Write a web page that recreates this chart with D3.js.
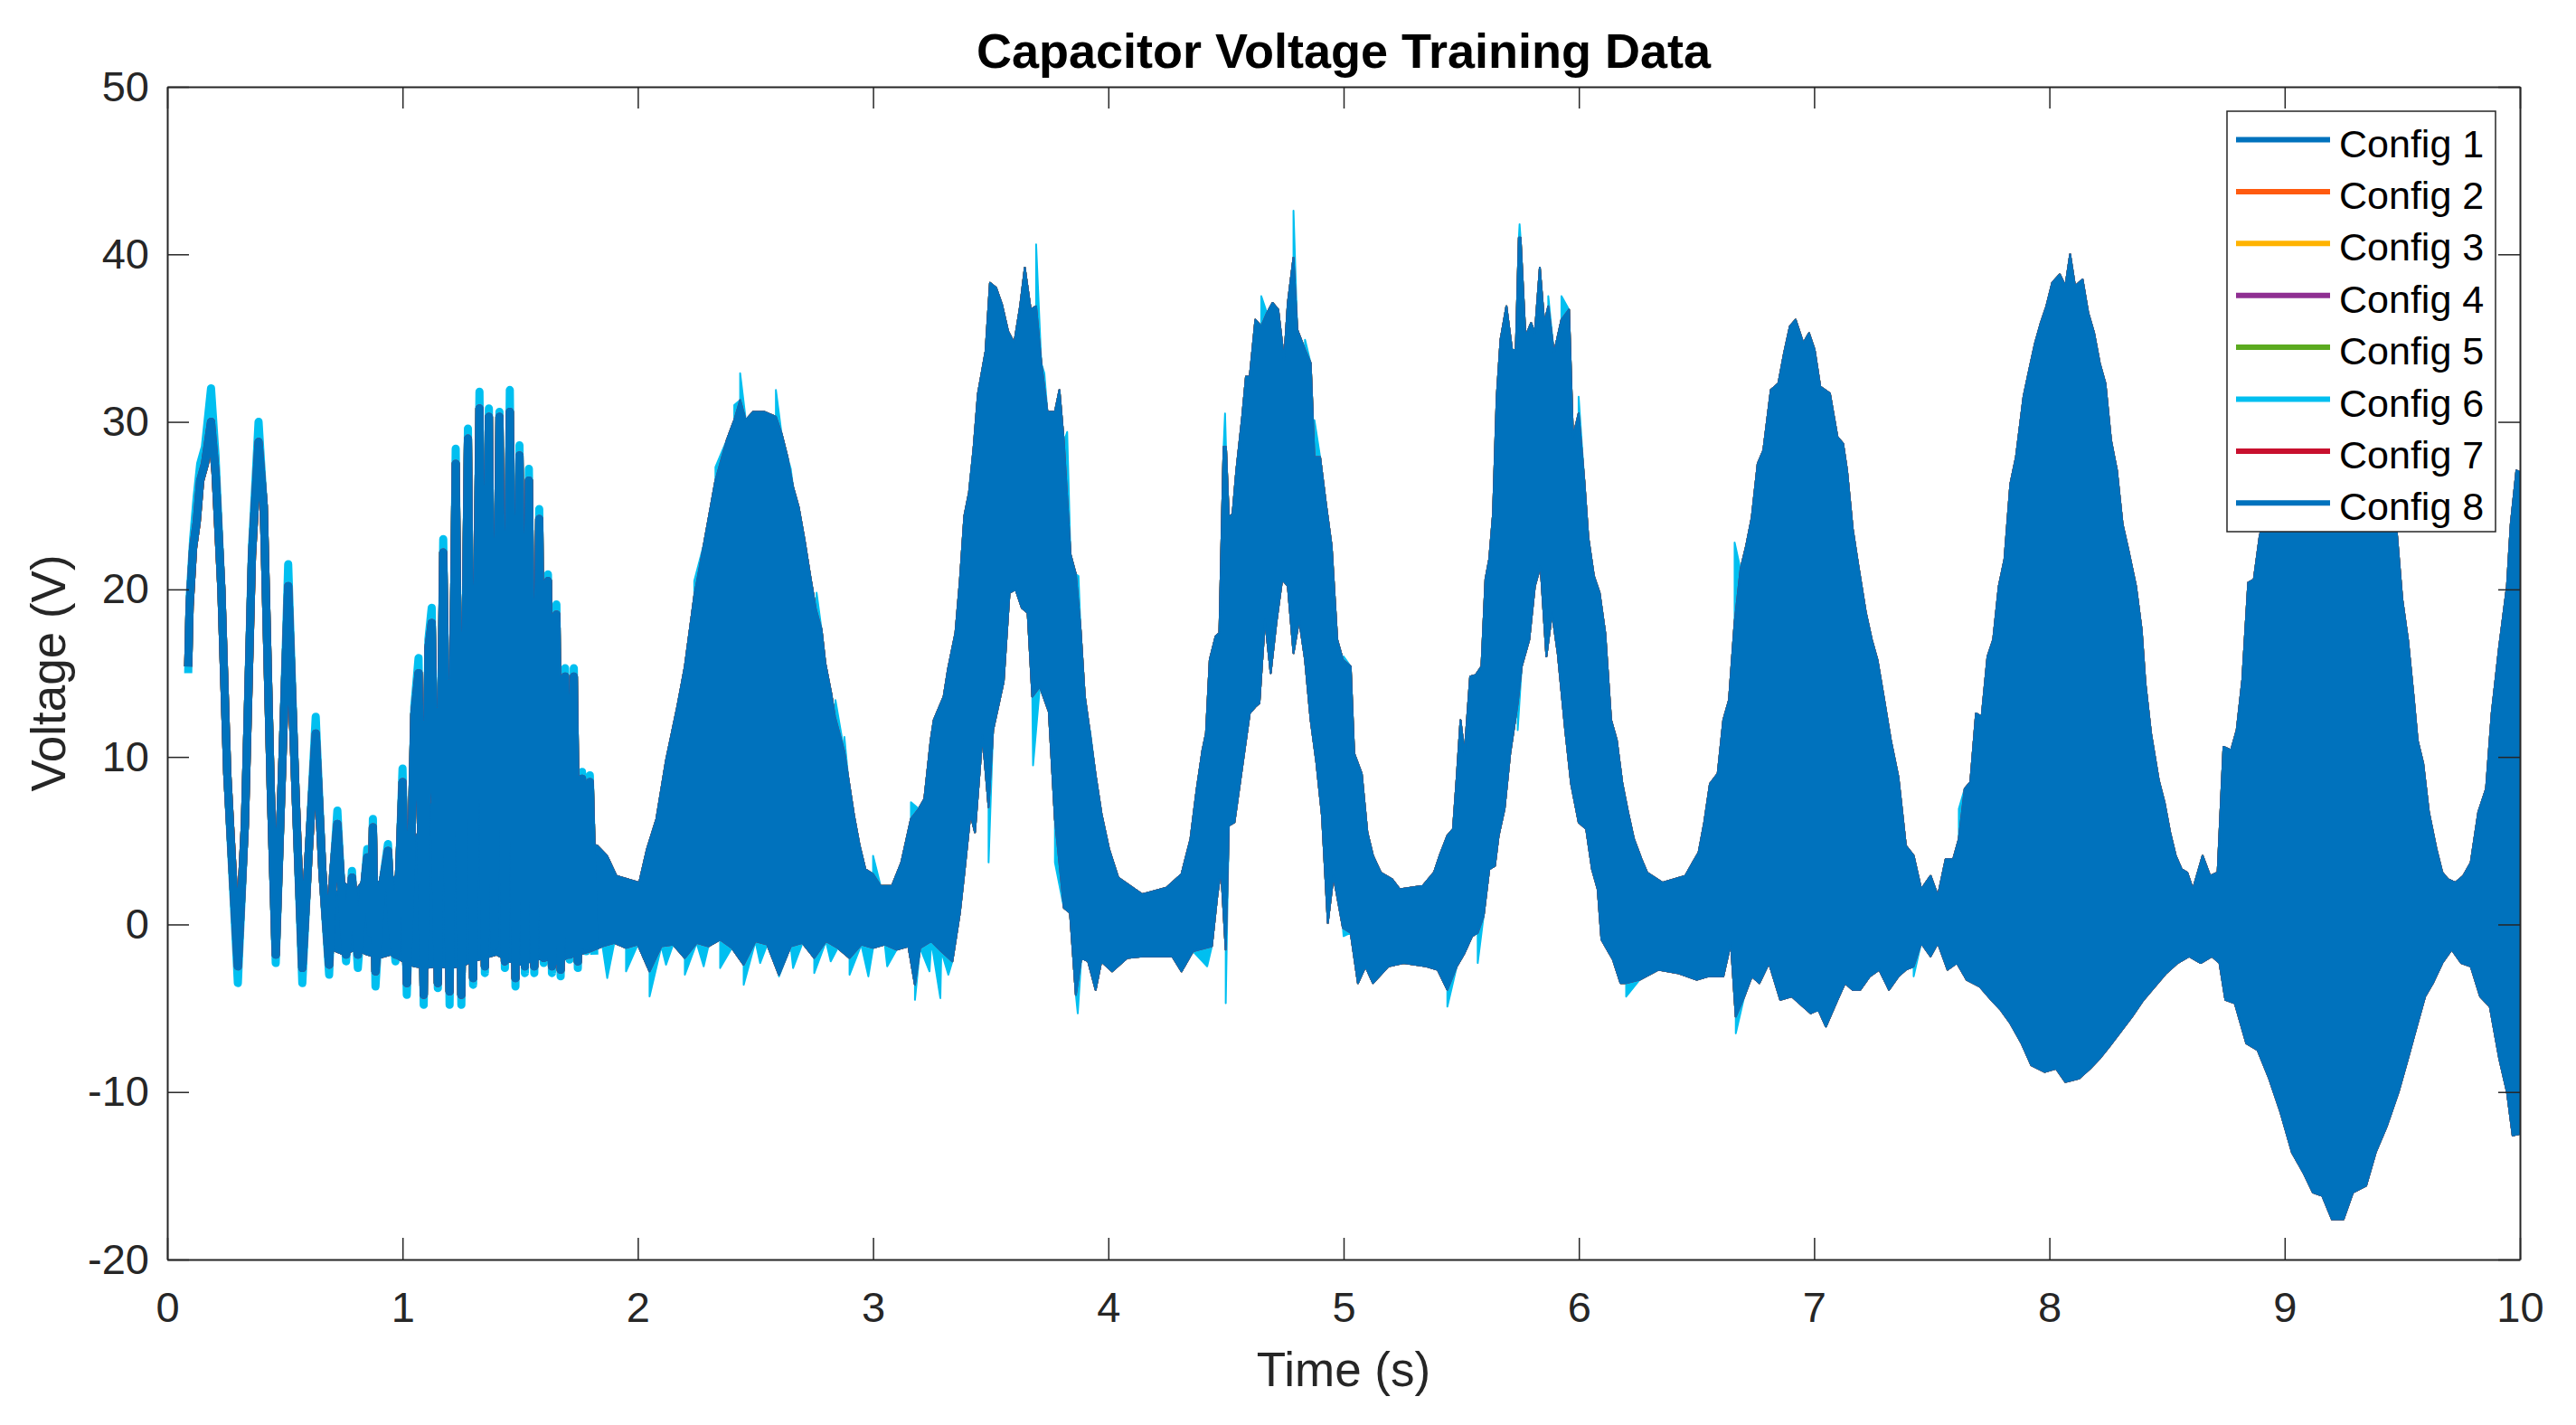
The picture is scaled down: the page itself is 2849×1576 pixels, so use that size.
<!DOCTYPE html>
<html>
<head>
<meta charset="utf-8">
<script src="https://cdn.jsdelivr.net/npm/d3@7"></script>
<style>
  body { margin: 0; background: #fff; }
  svg { display: block; font-family: "Liberation Sans", Arial, Helvetica, sans-serif; }
</style>
</head>
<body>
<svg width="2849" height="1576"></svg>
<script>
// legend entries and their colours (MATLAB order, the 8th wraps back to blue)
var configNames = ["Config 1", "Config 2", "Config 3", "Config 4", "Config 5", "Config 6", "Config 7", "Config 8"];
var configColors = ["#0072bd", "#ff5a0f", "#ffb300", "#8f2f92", "#5baa1f", "#00bff0", "#c8102e", "#0072bd"];

var xTicks = [0, 1, 2, 3, 4, 5, 6, 7, 8, 9, 10];
var yTicks = [-20, -10, 0, 10, 20, 30, 40, 50];

// start of the trace, 0.09 - 1.8 s: peaks and troughs [t, V]
// configs 1-5, 7 and 8 lie on top of each other, only 8 is visible
var startTrace = [
  [0.089, 15.4], [0.095, 19.0], [0.110, 22.5], [0.125, 24.0], [0.140, 26.5], [0.160, 27.5],
  [0.186, 30.0], [0.205, 27.0], [0.230, 20.0], [0.255, 9.0], [0.300, -2.5], [0.330, 6.0],
  [0.360, 22.0], [0.388, 28.8], [0.410, 25.0], [0.440, 8.0], [0.461, -1.8], [0.490, 10.0],
  [0.514, 20.2], [0.545, 8.0], [0.574, -2.6], [0.600, 4.0], [0.631, 11.4], [0.660, 3.0],
  [0.688, -2.4], [0.705, 3.0], [0.723, 6.0], [0.745, 1.0], [0.760, -1.8], [0.785, 2.8],
  [0.810, -1.8], [0.835, 2.0], [0.850, 4.0], [0.865, -0.5], [0.874, 5.8], [0.885, -2.8],
  [0.910, 2.0], [0.938, 4.4], [0.955, 0.0], [0.970, -1.8], [0.985, 3.0], [1.000, 8.5],
  [1.018, -3.5], [1.035, 3.0], [1.050, 12.5], [1.068, 15.0], [1.090, -4.2], [1.110, 16.5],
  [1.124, 18.0], [1.150, -3.5], [1.173, 22.2], [1.200, -4.0], [1.226, 27.5], [1.250, -4.2],
  [1.278, 29.0], [1.300, -3.2], [1.327, 30.8], [1.350, -2.5], [1.367, 30.3], [1.390, -1.3],
  [1.412, 30.3], [1.435, -2.2], [1.456, 30.6], [1.480, -3.2], [1.497, 28.0], [1.520, -2.5],
  [1.537, 26.5], [1.560, -2.5], [1.581, 24.2], [1.600, -2.0], [1.618, 20.5], [1.635, -2.5],
  [1.654, 18.5], [1.672, -2.7], [1.691, 14.8], [1.710, -1.8], [1.728, 14.8], [1.745, -2.2],
  [1.763, 8.7], [1.780, -1.3], [1.796, 8.5], [1.815, -1.5]
];

// config 6 swings a little further at the same instants
var startTrace6 = [
  [0.089, 15.0], [0.095, 19.5], [0.110, 23.0], [0.125, 25.5], [0.140, 27.5], [0.160, 28.5],
  [0.186, 32.0], [0.205, 28.0], [0.230, 20.0], [0.255, 9.0], [0.300, -3.5], [0.330, 6.0],
  [0.360, 22.5], [0.388, 30.0], [0.410, 25.0], [0.440, 8.0], [0.461, -2.3], [0.490, 10.0],
  [0.514, 21.5], [0.545, 8.0], [0.574, -3.5], [0.600, 4.0], [0.631, 12.4], [0.660, 3.0],
  [0.688, -3.0], [0.705, 3.0], [0.723, 6.8], [0.745, 1.0], [0.760, -2.2], [0.785, 3.2],
  [0.810, -2.6], [0.835, 2.0], [0.850, 4.5], [0.865, -0.5], [0.874, 6.3], [0.885, -3.7],
  [0.910, 2.0], [0.938, 4.8], [0.955, 0.0], [0.970, -2.2], [0.985, 3.0], [1.000, 9.3],
  [1.018, -4.2], [1.035, 3.0], [1.050, 13.0], [1.068, 15.9], [1.090, -4.8], [1.110, 17.0],
  [1.124, 18.9], [1.150, -3.8], [1.173, 23.0], [1.200, -4.8], [1.226, 28.4], [1.250, -4.8],
  [1.278, 29.6], [1.300, -3.6], [1.327, 31.8], [1.350, -2.9], [1.367, 30.8], [1.390, -1.6],
  [1.412, 30.6], [1.435, -2.6], [1.456, 31.9], [1.480, -3.7], [1.497, 28.6], [1.520, -2.9],
  [1.537, 27.2], [1.560, -2.9], [1.581, 24.8], [1.600, -2.3], [1.618, 20.9], [1.635, -2.9],
  [1.654, 19.1], [1.672, -3.1], [1.691, 15.3], [1.710, -2.1], [1.728, 15.3], [1.745, -2.6],
  [1.763, 9.1], [1.780, -1.6], [1.796, 8.9], [1.815, -1.8]
];

// dense part of the trace: upper edge of the filled band [t, V]
var upperEdge = [
  [0.70, 1.5], [0.75, 2.5], [0.80, 2.0], [0.85, 3.0], [0.90, 2.5], [0.95, 2.5],
  [1.00, 3.5], [1.05, 5.0], [1.10, 6.5], [1.15, 8.0], [1.20, 9.5], [1.25, 12.0],
  [1.30, 14.5], [1.35, 15.5], [1.40, 15.5], [1.45, 14.0], [1.50, 12.0], [1.55, 10.5],
  [1.60, 9.0], [1.65, 7.5], [1.70, 6.0], [1.75, 5.0], [1.80, 4.8], [1.828, 4.7],
  [1.869, 4.1], [1.909, 2.9], [1.958, 2.7], [2.006, 2.5], [2.039, 4.5], [2.079, 6.3],
  [2.120, 9.8], [2.168, 13.0], [2.200, 15.4], [2.240, 19.6], [2.281, 22.7], [2.330, 26.5],
  [2.378, 28.9], [2.410, 30.1], [2.435, 31.3], [2.459, 30.1], [2.490, 30.6], [2.537, 30.6],
  [2.587, 30.3], [2.611, 29.3], [2.636, 27.9], [2.660, 26.1], [2.684, 24.9], [2.708, 23.0],
  [2.733, 20.8], [2.757, 18.8], [2.781, 17.6], [2.797, 15.6], [2.822, 13.8], [2.838, 12.4],
  [2.878, 10.3], [2.894, 8.8], [2.919, 6.5], [2.943, 4.7], [2.967, 3.3], [3.000, 3.0],
  [3.032, 2.3], [3.080, 2.3], [3.120, 3.7], [3.161, 6.3], [3.194, 6.9], [3.218, 7.5],
  [3.245, 11.0], [3.258, 12.2], [3.300, 13.6], [3.318, 15.2], [3.350, 17.4], [3.369, 20.5],
  [3.388, 24.4], [3.408, 25.8], [3.427, 28.4], [3.446, 31.7], [3.478, 34.2], [3.497, 38.3],
  [3.523, 38.0], [3.548, 37.0], [3.574, 35.4], [3.600, 34.7], [3.625, 36.9], [3.645, 39.2],
  [3.670, 36.7], [3.693, 36.9], [3.715, 33.5], [3.741, 30.6], [3.773, 30.6], [3.792, 31.9],
  [3.811, 28.8], [3.839, 22.1], [3.862, 20.9], [3.882, 17.6], [3.900, 13.6], [3.920, 11.6],
  [3.946, 8.9], [3.971, 6.6], [4.003, 4.5], [4.042, 2.8], [4.144, 1.8], [4.247, 2.2],
  [4.311, 3.0], [4.349, 5.1], [4.375, 8.0], [4.400, 10.4], [4.415, 11.4], [4.431, 15.8],
  [4.456, 17.2], [4.472, 17.4], [4.490, 28.5], [4.500, 28.5], [4.512, 24.3], [4.528, 24.5],
  [4.544, 27.1], [4.569, 30.3], [4.585, 32.7], [4.601, 32.7], [4.625, 36.1], [4.650, 35.7],
  [4.674, 36.5], [4.698, 37.1], [4.722, 36.7], [4.747, 33.7], [4.763, 37.1], [4.787, 39.8],
  [4.803, 35.5], [4.836, 34.3], [4.860, 33.5], [4.876, 27.9], [4.900, 27.9], [4.925, 25.1],
  [4.949, 22.6], [4.973, 17.0], [4.997, 15.8], [5.030, 15.4], [5.045, 10.2], [5.077, 9.0],
  [5.101, 5.5], [5.125, 4.1], [5.158, 3.1], [5.206, 2.7], [5.239, 2.1], [5.336, 2.3],
  [5.384, 3.1], [5.408, 4.1], [5.441, 5.3], [5.465, 5.7], [5.481, 8.8], [5.497, 12.2],
  [5.514, 10.2], [5.538, 14.8], [5.562, 14.9], [5.586, 15.4], [5.603, 20.6], [5.619, 21.8],
  [5.635, 24.5], [5.651, 31.5], [5.667, 34.9], [5.692, 36.9], [5.716, 34.3], [5.732, 34.3],
  [5.745, 41.0], [5.752, 41.0], [5.773, 35.1], [5.797, 35.9], [5.813, 35.3], [5.834, 39.2],
  [5.853, 35.9], [5.870, 36.9], [5.894, 34.1], [5.926, 36.1], [5.958, 36.7], [5.975, 29.1],
  [5.999, 30.5], [6.023, 26.5], [6.040, 23.1], [6.064, 20.8], [6.088, 19.8], [6.112, 17.4],
  [6.137, 12.2], [6.161, 11.0], [6.185, 8.4], [6.209, 6.7], [6.234, 5.1], [6.266, 3.9],
  [6.290, 3.1], [6.355, 2.5], [6.452, 2.9], [6.484, 3.7], [6.509, 4.3], [6.533, 6.1],
  [6.557, 8.4], [6.590, 9.0], [6.614, 12.2], [6.638, 13.4], [6.662, 18.0], [6.687, 21.2],
  [6.711, 22.6], [6.735, 24.3], [6.760, 27.5], [6.784, 28.3], [6.816, 31.9], [6.848, 32.3],
  [6.872, 34.1], [6.897, 35.7], [6.921, 36.1], [6.954, 34.7], [6.978, 35.3], [7.002, 34.3],
  [7.026, 32.1], [7.067, 31.7], [7.099, 29.1], [7.123, 28.7], [7.140, 27.1], [7.164, 23.6],
  [7.188, 21.4], [7.220, 18.6], [7.245, 17.0], [7.269, 15.8], [7.293, 13.8], [7.326, 11.0],
  [7.358, 8.8], [7.390, 4.7], [7.423, 4.1], [7.455, 2.1], [7.495, 2.9], [7.526, 1.7],
  [7.559, 3.9], [7.591, 3.9], [7.615, 5.1], [7.640, 8.1], [7.664, 8.5], [7.688, 12.6],
  [7.712, 12.4], [7.737, 16.0], [7.761, 17.0], [7.785, 20.2], [7.809, 21.8], [7.834, 26.3],
  [7.858, 27.9], [7.890, 31.5], [7.914, 33.1], [7.939, 34.7], [7.963, 35.9], [7.987, 36.9],
  [8.012, 38.3], [8.044, 38.8], [8.068, 38.1], [8.088, 40.0], [8.109, 38.1], [8.141, 38.5],
  [8.165, 36.5], [8.190, 35.3], [8.214, 33.5], [8.238, 32.3], [8.262, 28.9], [8.287, 27.1],
  [8.311, 23.9], [8.335, 22.4], [8.368, 20.2], [8.392, 17.6], [8.408, 14.4], [8.432, 11.4],
  [8.465, 8.6], [8.489, 7.3], [8.513, 5.5], [8.537, 4.1], [8.562, 3.3], [8.586, 3.1],
  [8.610, 2.1], [8.651, 4.1], [8.683, 2.9], [8.715, 3.1], [8.740, 10.6], [8.772, 10.4],
  [8.796, 11.6], [8.820, 14.6], [8.845, 20.4], [8.869, 20.6], [8.893, 23.1], [8.950, 27.0],
  [9.000, 29.5], [9.050, 31.5], [9.100, 33.0], [9.150, 34.0], [9.200, 34.0], [9.250, 33.0],
  [9.300, 31.5], [9.350, 29.5], [9.400, 27.5], [9.450, 25.0], [9.476, 23.5], [9.500, 19.4],
  [9.524, 17.0], [9.548, 13.6], [9.565, 11.0], [9.589, 9.6], [9.613, 6.7], [9.645, 4.5],
  [9.670, 3.1], [9.694, 2.7], [9.726, 2.5], [9.759, 2.9], [9.791, 3.7], [9.823, 6.7],
  [9.856, 8.1], [9.880, 12.6], [9.912, 16.6], [9.945, 20.2], [9.961, 23.9], [9.985, 27.1],
  [10.000, 27.0]
];

// dense part of the trace: lower edge of the filled band [t, V]
var lowerEdge = [
  [0.70, -1.5], [0.75, -1.8], [0.80, -1.5], [0.85, -1.8], [0.90, -2.0], [0.95, -1.8],
  [1.00, -2.2], [1.05, -2.5], [1.10, -2.6], [1.15, -2.5], [1.20, -2.6], [1.25, -2.5],
  [1.30, -2.2], [1.35, -2.0], [1.40, -1.8], [1.45, -2.2], [1.50, -2.4], [1.55, -2.2],
  [1.60, -2.0], [1.65, -2.4], [1.70, -2.0], [1.75, -1.8], [1.80, -1.6], [1.85, -1.3],
  [1.90, -1.1], [1.95, -1.4], [2.00, -1.2], [2.05, -2.8], [2.10, -1.3], [2.15, -1.2],
  [2.20, -2.0], [2.25, -1.1], [2.30, -1.3], [2.35, -0.9], [2.40, -1.4], [2.45, -2.4],
  [2.50, -1.0], [2.55, -1.2], [2.60, -3.0], [2.65, -1.3], [2.70, -1.1], [2.75, -2.0],
  [2.80, -1.0], [2.85, -1.4], [2.90, -2.0], [2.95, -1.2], [3.00, -1.4], [3.05, -1.2],
  [3.10, -1.5], [3.15, -1.3], [3.178, -3.6], [3.20, -1.4], [3.2475, -1.0], [3.29, -1.6],
  [3.337, -2.2], [3.369, 0.7], [3.388, 3.1], [3.414, 6.6], [3.433, 5.5], [3.465, 11.3],
  [3.491, 7.0], [3.510, 11.6], [3.555, 14.5], [3.580, 19.8], [3.606, 20.0], [3.632, 18.9],
  [3.657, 18.6], [3.677, 13.6], [3.709, 14.2], [3.747, 12.7], [3.773, 6.3], [3.811, 1.0],
  [3.837, 0.7], [3.862, -4.2], [3.885, -2.0], [3.914, -2.2], [3.946, -3.9], [3.970, -2.2],
  [4.016, -2.8], [4.080, -2.0], [4.144, -1.9], [4.210, -1.9], [4.272, -1.9], [4.311, -2.8],
  [4.360, -1.6], [4.440, -1.3], [4.463, 1.7], [4.479, 3.3], [4.499, -1.5], [4.512, 5.9],
  [4.536, 6.1], [4.577, 10.2], [4.601, 12.6], [4.625, 13.0], [4.642, 13.2], [4.666, 18.2],
  [4.690, 15.0], [4.714, 18.0], [4.739, 20.6], [4.763, 20.2], [4.787, 16.2], [4.811, 18.2],
  [4.836, 15.8], [4.860, 12.2], [4.884, 9.7], [4.908, 6.5], [4.933, 0.1], [4.957, 2.9],
  [4.997, -0.2], [5.030, -0.5], [5.061, -3.5], [5.093, -2.5], [5.125, -3.5], [5.190, -2.5],
  [5.255, -2.3], [5.352, -2.5], [5.400, -2.7], [5.441, -3.9], [5.481, -2.5], [5.514, -1.7],
  [5.546, -0.7], [5.570, -0.5], [5.595, 0.5], [5.619, 3.3], [5.643, 3.5], [5.659, 5.3],
  [5.684, 6.9], [5.708, 10.2], [5.740, 13.2], [5.757, 15.4], [5.789, 17.0], [5.813, 20.2],
  [5.837, 21.4], [5.862, 16.0], [5.886, 18.6], [5.910, 16.2], [5.942, 11.6], [5.967, 8.4],
  [5.999, 6.1], [6.031, 5.7], [6.056, 3.3], [6.080, 2.1], [6.096, -0.9], [6.145, -2.1],
  [6.177, -3.5], [6.201, -3.5], [6.258, -3.3], [6.339, -2.7], [6.420, -2.9], [6.501, -3.3],
  [6.550, -3.1], [6.614, -3.1], [6.646, -1.1], [6.667, -5.5], [6.703, -4.3], [6.735, -3.1],
  [6.767, -3.5], [6.808, -2.3], [6.856, -4.5], [6.905, -4.3], [6.937, -4.7], [6.986, -5.3],
  [7.018, -5.1], [7.050, -6.1], [7.099, -4.5], [7.131, -3.5], [7.164, -3.9], [7.196, -3.9],
  [7.236, -3.1], [7.277, -2.7], [7.318, -3.9], [7.358, -3.1], [7.390, -2.7], [7.423, -2.5],
  [7.455, -1.1], [7.495, -1.9], [7.526, -1.1], [7.567, -2.7], [7.607, -2.3], [7.648, -3.3],
  [7.704, -3.7], [7.753, -4.5], [7.793, -5.1], [7.834, -5.9], [7.882, -7.1], [7.923, -8.4],
  [7.979, -8.8], [8.028, -8.6], [8.068, -9.4], [8.125, -9.2], [8.173, -8.6], [8.214, -8.0],
  [8.254, -7.3], [8.303, -6.4], [8.351, -5.5], [8.400, -4.5], [8.448, -3.7], [8.497, -2.9],
  [8.545, -2.3], [8.594, -1.9], [8.643, -2.3], [8.691, -1.9], [8.723, -2.3], [8.748, -4.5],
  [8.788, -4.7], [8.837, -7.1], [8.885, -7.5], [8.934, -9.2], [8.982, -11.2], [9.031, -13.6],
  [9.079, -14.8], [9.120, -16.0], [9.160, -16.2], [9.201, -17.6], [9.250, -17.6], [9.290, -16.0],
  [9.346, -15.6], [9.387, -13.6], [9.435, -12.0], [9.484, -10.0], [9.524, -8.0], [9.565, -5.9],
  [9.597, -4.3], [9.630, -3.5], [9.670, -2.3], [9.710, -1.5], [9.750, -2.3], [9.791, -2.5],
  [9.831, -4.3], [9.872, -4.9], [9.912, -8.0], [9.945, -10.0], [9.969, -12.6], [10.000, -12.5]
];

// config 6: where it sticks out above / below the shared band [t, V]
var cyanUpper = [
  [2.240, 20.5], [2.330, 27.3], [2.410, 31.0], [2.435, 32.9], [2.587, 31.9], [2.650, 27.2],
  [2.760, 19.8], [2.840, 13.4], [2.878, 11.2], [3.000, 4.1], [3.161, 7.3], [3.412, 26.5],
  [3.693, 40.6], [3.728, 32.9], [3.825, 29.4], [3.873, 20.8], [3.922, 11.6], [4.496, 30.5],
  [4.650, 37.5], [4.787, 42.6], [4.836, 34.9], [4.876, 30.1], [5.000, 16.0], [5.748, 41.8],
  [5.870, 37.5], [5.926, 37.5], [5.999, 31.5], [6.662, 22.8], [7.615, 6.9]
];
var cyanLower = [
  [1.870, -3.2], [1.950, -2.8], [2.050, -4.3], [2.120, -2.4], [2.200, -3.0], [2.280, -2.5],
  [2.350, -2.6], [2.450, -3.6], [2.520, -2.3], [2.600, -3.1], [2.660, -2.6], [2.750, -2.9],
  [2.820, -2.2], [2.900, -3.0], [2.980, -3.1], [3.060, -2.5], [3.178, -4.5], [3.240, -2.8],
  [3.286, -4.4], [3.320, -3.0], [3.491, 3.7], [3.680, 9.5], [3.773, 3.7], [3.870, -5.3],
  [4.420, -2.5], [4.499, -4.7], [5.000, -0.7], [5.441, -4.9], [5.570, -2.3], [5.740, 11.6],
  [6.201, -4.3], [6.667, -6.5], [7.423, -3.1]
];

var svg = d3.select("svg"),
    margin = {top: 96, right: 62, bottom: 183, left: 185},
    width = +svg.attr("width") - margin.left - margin.right,
    height = +svg.attr("height") - margin.top - margin.bottom;

var x = d3.scaleLinear().domain([0, 10]).range([0, width]),
    y = d3.scaleLinear().domain([-20, 50]).range([height, 0]);

var axisColor = "#262626";

var g = svg.append("g")
    .attr("transform", "translate(" + margin.left + "," + margin.top + ")");

g.append("clipPath").attr("id", "plotClip")
  .append("rect").attr("width", width).attr("height", height);

var plot = g.append("g").attr("clip-path", "url(#plotClip)");

var trace = d3.line()
    .x(function(d) { return x(d[0]); })
    .y(function(d) { return y(d[1]); });

var band = d3.line()
    .x(function(d) { return x(d[0]); })
    .y(function(d) { return y(d[1]); })
    .curve(d3.curveLinearClosed);

function byTime(a, b) { return a[0] - b[0]; }

// config 6 band = shared band plus its own spikes
var upper6 = upperEdge.concat(cyanUpper).sort(byTime);
var lower6 = lowerEdge.concat(cyanLower).sort(byTime);

configNames.forEach(function(name, i) {
  var isSix = name === "Config 6";
  var up = isSix ? upper6 : upperEdge,
      lo = isSix ? lower6 : lowerEdge,
      start = isSix ? startTrace6 : startTrace;
  var s = plot.append("g").attr("class", "series");
  s.append("path")
      .attr("d", band(up.concat(lo.slice().reverse())))
      .attr("fill", configColors[i])
      .attr("stroke", configColors[i])
      .attr("stroke-width", 2)
      .attr("stroke-linejoin", "round");
  s.append("path")
      .attr("d", trace(start))
      .attr("fill", "none")
      .attr("stroke", configColors[i])
      .attr("stroke-width", 9)
      .attr("stroke-linejoin", "round");
});

// axes, MATLAB box style: ticks point inward on all four sides
function styleAxis(sel) {
  sel.selectAll("path.domain").attr("stroke", axisColor).attr("stroke-width", 2);
  sel.selectAll(".tick line").attr("stroke", axisColor).attr("stroke-width", 1.5);
  sel.selectAll(".tick text").attr("fill", axisColor).attr("font-family", null).style("font-size", "47px");
}

var plain = function(d) { return String(d); };

g.append("g")
    .attr("transform", "translate(0," + height + ")")
    .call(d3.axisBottom(x).tickValues(xTicks).tickFormat(plain).tickSizeInner(-24).tickSizeOuter(0).tickPadding(36))
    .call(styleAxis);

g.append("g")
    .call(d3.axisLeft(y).tickValues(yTicks).tickFormat(plain).tickSizeInner(-24).tickSizeOuter(0).tickPadding(20))
    .call(styleAxis);

g.append("g")
    .call(d3.axisTop(x).tickValues(xTicks).tickSizeInner(-24).tickSizeOuter(0).tickFormat(""))
    .call(styleAxis);

g.append("g")
    .attr("transform", "translate(" + width + ",0)")
    .call(d3.axisRight(y).tickValues(yTicks).tickSizeInner(-24).tickSizeOuter(0).tickFormat(""))
    .call(styleAxis);

// title and axis labels
svg.append("text")
    .attr("x", margin.left + width / 2)
    .attr("y", 75)
    .attr("text-anchor", "middle")
    .style("font-size", "54px")
    .style("font-weight", "bold")
    .attr("fill", "#000")
    .text("Capacitor Voltage Training Data");

svg.append("text")
    .attr("x", margin.left + width / 2)
    .attr("y", 1533)
    .attr("text-anchor", "middle")
    .style("font-size", "53px")
    .attr("fill", axisColor)
    .text("Time (s)");

svg.append("text")
    .attr("transform", "translate(72," + (margin.top + height / 2) + ") rotate(-90)")
    .attr("text-anchor", "middle")
    .style("font-size", "53px")
    .attr("fill", axisColor)
    .text("Voltage (V)");

// legend, top right inside the axes
var legend = svg.append("g").attr("transform", "translate(2463,123)");
legend.append("rect")
    .attr("width", 297)
    .attr("height", 465)
    .attr("fill", "#fff")
    .attr("stroke", axisColor)
    .attr("stroke-width", 1.5);

var rows = legend.selectAll(".row")
  .data(configNames)
  .enter().append("g")
    .attr("class", "row")
    .attr("transform", function(d, i) { return "translate(0," + (31.5 + i * 57.4) + ")"; });

rows.append("line")
    .attr("x1", 10).attr("x2", 114)
    .attr("stroke", function(d, i) { return configColors[i]; })
    .attr("stroke-width", 6);

rows.append("text")
    .attr("x", 124)
    .attr("y", 19)
    .style("font-size", "43px")
    .attr("fill", "#000")
    .text(function(d) { return d; });
</script>
</body>
</html>
